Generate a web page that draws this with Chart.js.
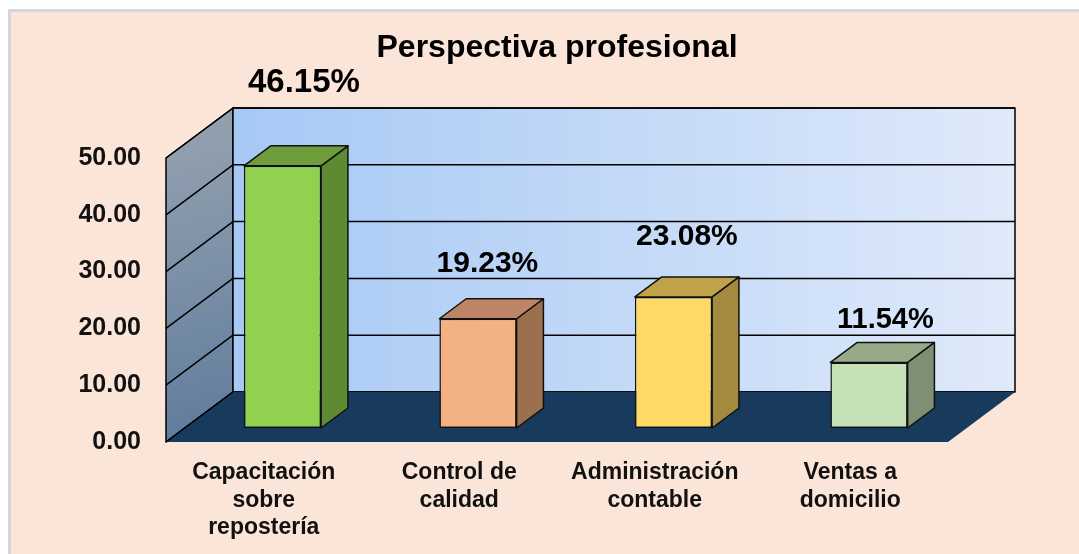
<!DOCTYPE html>
<html>
<head>
<meta charset="utf-8">
<script src="https://cdn.jsdelivr.net/npm/chart.js@4.4.0/dist/chart.umd.min.js"></script>
<style>
  html, body { margin: 0; padding: 0; background: #fff; }
  canvas { display: block; }
</style>
</head>
<body>
<canvas id="chart" width="1079" height="554"></canvas>
<script>
const categories = [["Capacitación", "sobre", "repostería"], ["Control de", "calidad"], ["Administración", "contable"], ["Ventas a", "domicilio"]];
const values = [46.15, 19.23, 23.08, 11.54];
const valueLabels = ["46.15%", "19.23%", "23.08%", "11.54%"];
const yTicks = [0, 10, 20, 30, 40, 50];

const frontColors = ['#92D050', '#F4B183', '#FFD966', '#C5E0B4'];
const sideColors = ['#5E8A31', '#9C6F4F', '#A38A3E', '#7F8F73'];
const topColors = ['#6F9D3C', '#BD8565', '#C0A24B', '#97AA88'];

const FONT = "'Liberation Sans', Arial, sans-serif";

function poly(ctx, pts) {
    ctx.beginPath();
    ctx.moveTo(pts[0][0], pts[0][1]);
    for (let i = 1; i < pts.length; i++) ctx.lineTo(pts[i][0], pts[i][1]);
    ctx.closePath();
}

const background = {
    id: 'background',
    beforeDraw(chart) {
        const ctx = chart.ctx;
        ctx.save();
        ctx.fillStyle = '#fff';
        ctx.fillRect(0, 0, chart.width, chart.height);
        ctx.fillStyle = '#d6d6d6';
        ctx.fillRect(8, 9, chart.width, chart.height);
        ctx.fillStyle = '#FBE4D8';
        ctx.fillRect(11, 12, chart.width, chart.height);
        ctx.restore();
    }
};

// walls, floor and the depth faces of the bars
const box3d = {
    id: 'box3d',
    beforeDatasetsDraw(chart, args, opts) {
        const { ctx, chartArea: a, scales: { y } } = chart;
        const dx = opts.depthX, dy = opts.depthY;
        const top = y.getPixelForValue(y.max);
        const bottom = y.getPixelForValue(y.min);
        ctx.save();
        ctx.lineWidth = 1.5;
        ctx.strokeStyle = '#000';
        ctx.lineJoin = 'round';

        let g = ctx.createLinearGradient(a.left, top, a.left + dx, bottom);
        g.addColorStop(0, '#909EAE');
        g.addColorStop(1, '#5E7B9C');
        ctx.fillStyle = g;
        poly(ctx, [[a.left, bottom], [a.left, top], [a.left + dx, top + dy], [a.left + dx, bottom + dy]]);
        ctx.fill();
        ctx.stroke();

        g = ctx.createLinearGradient(a.left + dx, 0, a.right + dx, 0);
        g.addColorStop(0, '#A6C9F5');
        g.addColorStop(0.5, '#C3D9F7');
        g.addColorStop(1, '#DFEAFA');
        ctx.fillStyle = g;
        poly(ctx, [[a.left + dx, top + dy], [a.right + dx, top + dy], [a.right + dx, bottom + dy], [a.left + dx, bottom + dy]]);
        ctx.fill();
        ctx.stroke();

        y.ticks.forEach(t => {
            const py = y.getPixelForValue(t.value);
            ctx.beginPath();
            ctx.moveTo(a.left, py);
            ctx.lineTo(a.left + dx, py + dy);
            ctx.lineTo(a.right + dx, py + dy);
            ctx.stroke();
        });

        ctx.fillStyle = '#173A5D';
        poly(ctx, [[a.left, bottom], [a.right, bottom], [a.right + dx, bottom + dy], [a.left + dx, bottom + dy]]);
        ctx.fill();
        ctx.beginPath();
        ctx.moveTo(a.left, bottom);
        ctx.lineTo(a.left + dx, bottom + dy);
        ctx.stroke();
        ctx.restore();

        // push the bars back into the box
        ctx.save();
        ctx.translate(dx * opts.barFront, dy * opts.barFront);
    },
    afterDatasetsDraw(chart, args, opts) {
        const ctx = chart.ctx;
        const meta = chart.getDatasetMeta(0);
        const bx = opts.depthX * opts.barDepth, by = opts.depthY * opts.barDepth;
        ctx.lineWidth = 1.5;
        ctx.strokeStyle = '#111';
        ctx.lineJoin = 'round';
        meta.data.forEach((bar, i) => {
            const { x, y, base, width } = bar.getProps(['x', 'y', 'base', 'width'], true);
            const l = x - width / 2, r = x + width / 2;
            ctx.fillStyle = sideColors[i];
            poly(ctx, [[r, y], [r + bx, y + by], [r + bx, base + by], [r, base]]);
            ctx.fill();
            ctx.stroke();
            ctx.fillStyle = topColors[i];
            poly(ctx, [[l, y], [l + bx, y + by], [r + bx, y + by], [r, y]]);
            ctx.fill();
            ctx.stroke();
        });
        ctx.restore();

        // value labels
        ctx.save();
        ctx.fillStyle = '#000';
        ctx.textAlign = 'center';
        ctx.textBaseline = 'middle';
        const ox = opts.depthX * opts.barFront, oy = opts.depthY * opts.barFront;
        meta.data.forEach((bar, i) => {
            ctx.font = 'bold ' + opts.labelSizes[i] + 'px ' + FONT;
            ctx.fillText(valueLabels[i], bar.x + ox + bx / 2 + opts.labelShift[i], bar.y + oy - opts.labelLift[i]);
        });
        ctx.restore();
    }
};

new Chart(document.getElementById('chart'), {
    type: 'bar',
    data: {
        labels: categories,
        datasets: [{
            data: values,
            backgroundColor: frontColors,
            borderColor: '#111',
            borderWidth: 1.5,
            borderSkipped: false,
            categoryPercentage: 1,
            barPercentage: 0.395
        }]
    },
    options: {
        responsive: false,
        animation: false,
        devicePixelRatio: 1,
        layout: { padding: { left: 0, right: 131, top: 0, bottom: 0 } },
        plugins: {
            legend: { display: false },
            tooltip: { enabled: false },
            title: {
                display: true,
                text: 'Perspectiva profesional',
                fullSize: false,
                color: '#000',
                font: { family: FONT, size: 32, weight: 'bold' },
                padding: { top: 29, bottom: 90.6 }
            },
            box3d: {
                depthX: 67,
                depthY: -50,
                barFront: 0.28,
                barDepth: 0.4,
                labelLift: [83, 55, 60, 42],
                labelShift: [8, -4, 0, 3],
                labelSizes: [33, 30, 30, 29]
            }
        },
        scales: {
            x: {
                grid: { display: false, drawTicks: false },
                border: { display: false },
                ticks: {
                    color: '#111',
                    padding: 17,
                    maxRotation: 0,
                    autoSkip: false,
                    font: { family: FONT, size: 23, weight: 'bold' }
                },
                afterFit(scale) { scale.height = 112; }
            },
            y: {
                min: 0,
                max: 50,
                grid: { display: false, drawTicks: false },
                border: { display: false },
                ticks: {
                    color: '#111',
                    padding: 25,
                    font: { family: FONT, size: 25, weight: 'bold' },
                    callback: v => v.toFixed(2)
                },
                afterBuildTicks(scale) { scale.ticks = yTicks.map(v => ({ value: v })); },
                afterFit(scale) { scale.width = 166; }
            }
        }
    },
    plugins: [background, box3d]
});
</script>
</body>
</html>
